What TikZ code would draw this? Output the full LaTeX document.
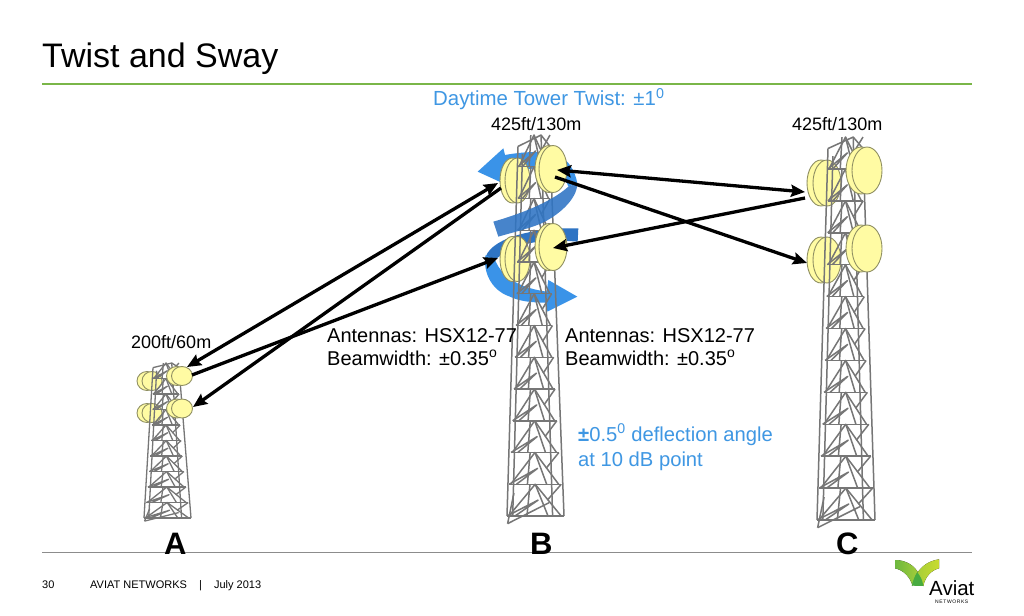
\documentclass[tikz,border=0pt]{standalone}
\usepackage{fontspec}
\setmainfont{Liberation Sans}
\usetikzlibrary{arrows.meta,shapes.geometric}
\definecolor{txtblue}{HTML}{3F97E3}
\definecolor{blueL}{HTML}{3A93E8}
\definecolor{blueD}{HTML}{2E74C4}
\definecolor{dishY}{HTML}{FFFBA3}
\definecolor{dishL}{HTML}{8F8F62}
\definecolor{twr}{HTML}{767676}
\definecolor{gline}{HTML}{7AB648}
\definecolor{fline}{HTML}{8C8C8C}
\definecolor{logoA}{HTML}{6DB83F}
\definecolor{logoB}{HTML}{A6CE39}
\definecolor{logoC}{HTML}{C9DB2F}
\definecolor{logoD}{HTML}{48AB40}
\newcommand\fsz[1]{\fontsize{#1}{#1}\selectfont}
\newcommand\tp[2]{({(\tLa+(\tLb-\tLa)*(#2)*(#2)*sqrt(#2))+(#1)*((\tRa+(\tRb-\tRa)*(#2)*(#2)*sqrt(#2))-(\tLa+(\tLb-\tLa)*(#2)*(#2)*sqrt(#2)))},{\tYa+(\tYb-\tYa)*(#2)})}
% tower: left top, right top, top y, left base, right base, base y, panels, line width
\newcommand\towerdraw[8]{%
 \def\tLa{#1}\def\tRa{#2}\def\tYa{#3}\def\tLb{#4}\def\tRb{#5}\def\tYb{#6}%
 \begin{scope}[draw=twr,line width=#8,line join=round]
 \draw \tp{0}{0.03} -- \tp{0.72}{0.0001} -- \tp{1}{0.03};
 \draw \tp{0}{0.03} -- \tp{0}{1};
 \draw \tp{1}{0.03} -- \tp{1}{1};
 \draw \tp{0.72}{0.0001} -- \tp{0.8}{1};
 \draw \tp{0.14}{0.05} -- \tp{0.1}{1};
 \draw \tp{0.02}{1.02} -- \tp{0.75}{0.965};
 \draw \tp{0.02}{1.02} -- \tp{0.1}{0.94};
 \foreach \i in {0,...,#7}{%
  \pgfmathsetmacro\ta{max(\i/(#7+1),0.0001)}%
  \pgfmathsetmacro\tb{(\i+1)/(#7+1)}%
  \pgfmathsetmacro\tm{(\ta+\tb)/2}%
  \draw \tp{0}{\tb} -- \tp{1}{\tb};
  \draw \tp{0.03}{\tb} -- \tp{0.5}{\ta} -- \tp{0.95}{\tb};
  \draw \tp{0.14}{\tb} -- \tp{0.55}{\tm} -- \tp{0}{\tb};
  \draw \tp{0.5}{\ta} -- \tp{0.72}{\tb};
  \draw \tp{0.4}{\ta} -- \tp{0.35}{\tb};
  \draw \tp{1}{\ta} -- \tp{0.72}{\tm};
 }
 \end{scope}}
\tikzset{
 dishb/.style={ellipse,draw=dishL,fill=dishY,line width=0.9pt,inner sep=0pt},
 link/.style={line width=3.3pt,black},
 hd/.style={-{Stealth[length=14pt,width=12pt,inset=2pt]}},
 dh/.style={{Stealth[length=14pt,width=12pt,inset=2pt]}-{Stealth[length=14pt,width=12pt,inset=2pt]}},
 lab/.style={anchor=base west,inner sep=0pt,text=black},
 blab/.style={anchor=base west,inner sep=0pt,text=txtblue},
}
\newcommand\dish[6]{% name, x, y, rx, ry, offset
 \node[dishb,minimum width=#4*2pt,minimum height=#5*2pt] (#1back) at (#2-#6,#3) {};
 \node[dishb,minimum width=#4*2pt,minimum height=#5*2pt] (#1) at (#2,#3) {};
}
\begin{document}
\begin{tikzpicture}[x=1pt,y=-1pt]
\useasboundingbox (0,0) rectangle (1024,615);
\fill[white] (0,0) rectangle (1024,615);
% rules
\coordinate (rg1) at (42,84); \coordinate (rg2) at (972,84);
\coordinate (rf1) at (42,552); \coordinate (rf2) at (972,552);
\draw[gline,line width=1.4pt] (rg1) -- (rg2);
\draw[fline,line width=0.9pt] (rf1) -- (rf2);
% titles
\node[lab] (title) at (42,68) {\fsz{34}Twist and Sway};
\node[blab] (twist) at (433,106) {\fsz{20.4}Daytime Tower Twist: ±1\textsuperscript{0}};
\node[lab] (hb) at (491,130) {\fsz{18}425ft/130m};
\node[lab] (hc) at (792,130) {\fsz{18}425ft/130m};
\node[lab] (ha) at (131,348) {\fsz{18}200ft/60m};
% back of spirals (tower B)
\begin{scope}[shift={(440,120)},scale=0.3333]
 \fill[blueL] (113,155) -- (190,85) -- (195,105) .. controls (250,95) and (290,95) .. (330,97)
   .. controls (380,105) and (405,150) .. (412,190) -- (385,200)
   .. controls (370,150) and (300,125) .. (205,165) -- (185,188) -- cycle;
 \fill[blueD] (415,325) -- (413,365) .. controls (300,355) and (220,370) .. (165,420)
   -- (137,410) .. controls (160,350) and (290,322) .. cycle;
 \fill[blueL] (137,405) .. controls (128,450) and (150,510) .. (210,530) .. controls (240,545) and (280,548) .. (320,548)
   -- (322,575) -- (412,530) -- (325,480) -- (320,515) .. controls (250,505) and (190,480) .. (165,420) -- cycle;
\end{scope}
% far dishes
\dish{a1}{152}{381}{10}{9.5}{5}
\dish{a2}{152}{413}{10}{9.5}{5}
\dish{b1}{517.5}{180.5}{12.5}{22.5}{5}
\dish{b3}{517.5}{259}{12.5}{22.5}{5}
\dish{c1}{827}{183}{14}{23}{6}
\dish{c3}{827}{260}{14}{23}{6}
% towers
\towerdraw{153}{179}{363}{144}{191}{518}{9}{1.3pt}
\towerdraw{518}{550}{135}{507}{564}{516}{11}{1.5pt}
\towerdraw{828}{863}{137}{817}{875}{520}{11}{1.5pt}
% front band of spiral
\begin{scope}[shift={(440,120)},scale=0.3333]
 \fill[blueD,opacity=0.88] (385,200) -- (412,190) .. controls (412,240) and (350,290) .. (300,312)
   .. controls (260,328) and (215,338) .. (175,350) -- (160,305)
   .. controls (230,285) and (330,250) .. cycle;
\end{scope}
% near dishes
\dish{a0}{182}{376}{10.5}{9.5}{5}
\dish{a3}{182}{408.5}{10.5}{9.5}{5}
\dish{b0}{553}{169}{14}{23.5}{4}
\dish{b2}{553}{247}{14}{23.5}{4}
\dish{c0}{867}{170.5}{15}{23.5}{6}
\dish{c2}{867}{248.5}{15}{23.5}{6}
% connector ends
\coordinate (eB1) at (498,183);
\coordinate (eA1) at (187,367);
\coordinate (eB2) at (501,188);
\coordinate (eA2) at (193,407);
\coordinate (eB3) at (498,258);
\coordinate (eA3) at (192,375);
\coordinate (eB4) at (557,170);
\coordinate (eC4) at (805,192);
\coordinate (eC5) at (805,198);
\coordinate (eB5) at (553,248);
\coordinate (eB6) at (555,177);
\coordinate (eC6) at (807,263);
\draw[link,dh] (eB1) -- (eA1);
\draw[link,hd] (eB2) -- (eA2);
\draw[link,hd] (eA3) -- (eB3);
\draw[link,dh] (eB4) -- (eC4);
\draw[link,hd] (eC5) -- (eB5);
\draw[link,hd] (eB6) -- (eC6);
% labels
\node[lab] (ant1) at (327,342) {\fsz{20}Antennas: HSX12-77};
\node[lab] (bw1) at (327,365) {\fsz{20}Beamwidth: ±0.35\textsuperscript{o}};
\node[lab] (ant2) at (565,342) {\fsz{20}Antennas: HSX12-77};
\node[lab] (bw2) at (565,365) {\fsz{20}Beamwidth: ±0.35\textsuperscript{o}};
\node[blab] (defl) at (578,441) {\fsz{20.2}\textbf{±}0.5\textsuperscript{0} deflection angle};
\node[blab] (defl2) at (578,466) {\fsz{20.2}at 10 dB point};
\node[lab] (la) at (164,554) {\fsz{31}\textbf{A}};
\node[lab] (lb) at (530,554) {\fsz{31}\textbf{B}};
\node[lab] (lc) at (836,554) {\fsz{31}\textbf{C}};
% footer
\node[lab] (pg) at (42,588) {\fsz{11}30};
\node[lab] (ft) at (90,588) {\fsz{11}AVIAT NETWORKS\ \ \hspace{6pt}|\ \ \hspace{6pt}July 2013};
% logo
\begin{scope}[shift={(860,540)},scale=0.3333]
 \fill[left color=logoA,right color=logoB] (105,60) .. controls (135,60) and (165,75) .. (178,105) -- (158,138) .. controls (150,110) and (130,90) .. (105,85) -- cycle;
 \fill[left color=logoB,right color=logoC] (237,58) -- (237,85) .. controls (215,90) and (195,110) .. (190,138) -- (168,105) .. controls (185,75) and (210,62) .. cycle;
 \fill[logoD] (155,137) .. controls (160,120) and (165,105) .. (172,97) .. controls (182,110) and (188,122) .. (190,138) -- cycle;
\end{scope}
\node[lab] (av) at (929,595) {\fsz{20.5}Aviat};
\node[lab] (nw) at (935,603) {\fsz{5}\addfontfeature{LetterSpace=12}NETWORKS};
\end{tikzpicture}
\end{document}
